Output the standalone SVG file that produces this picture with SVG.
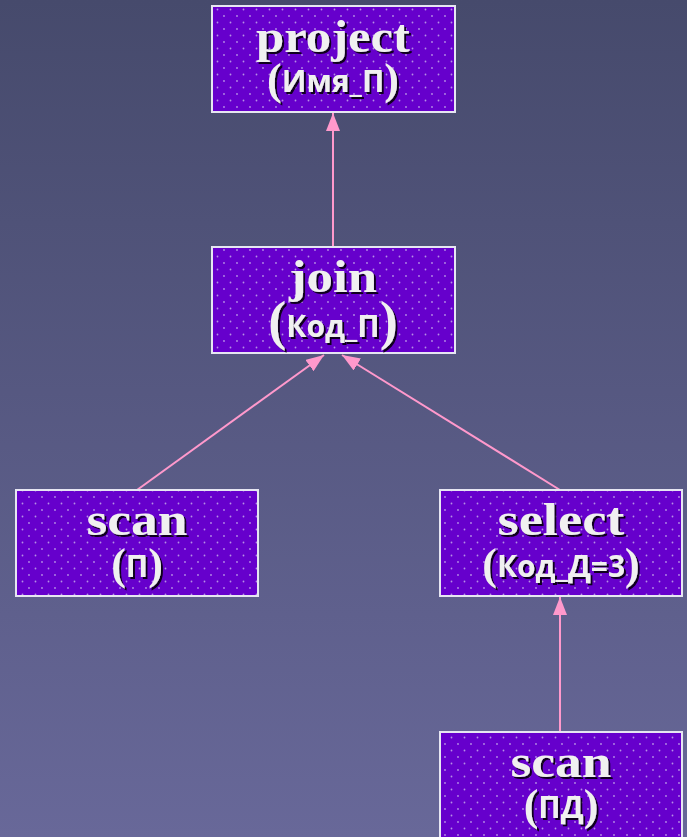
<svg xmlns="http://www.w3.org/2000/svg" width="687" height="837" viewBox="0 0 687 837">
<defs>
<linearGradient id="bg" x1="0" y1="0" x2="0" y2="1">
<stop offset="0" stop-color="#464a6c"/>
<stop offset="1" stop-color="#686899"/>
</linearGradient>
<pattern id="dots" width="13" height="13" patternUnits="userSpaceOnUse">
<rect width="13" height="13" fill="#6600cc"/>
<circle cx="3" cy="3" r="0.9" fill="#b58ee6"/>
<circle cx="9.5" cy="9.5" r="0.9" fill="#b58ee6"/>
</pattern>
<marker id="arr" viewBox="0 0 18 14" refX="18" refY="7" markerWidth="18" markerHeight="14" markerUnits="userSpaceOnUse" orient="auto">
<path d="M0,0 L18,7 L0,14 Z" fill="#ff99cc"/>
</marker>
<filter id="sh" x="-10%" y="-10%" width="130%" height="140%">
<feDropShadow dx="2" dy="2" stdDeviation="0.6" flood-color="#000" flood-opacity="0.85"/>
</filter>
</defs>
<style>
.box{fill:url(#dots);stroke:#e6e6f2;stroke-width:2}
.t{font-family:"Liberation Serif","Times New Roman",serif;font-weight:bold;fill:#f0f0f0;text-anchor:middle}
.main{font-size:46px}
.par{font-size:44px}
.big{font-size:54px}
.in{font-family:"Open Sans","DejaVu Sans",sans-serif;font-weight:bold;font-size:30px;fill:#f0f0f0}
.con{stroke:#ff99cc;stroke-width:2;fill:none;marker-end:url(#arr)}
</style>
<rect width="687" height="837" fill="url(#bg)"/>
<g id="connectors">
<line class="con" x1="333" y1="247" x2="333" y2="113"/>
<line class="con" x1="137" y1="490" x2="324" y2="355"/>
<line class="con" x1="560" y1="490" x2="342" y2="355"/>
<line class="con" x1="560" y1="732" x2="560" y2="597"/>
</g>
<g id="project">
<rect class="box" x="212" y="6" width="243" height="106"/>
<g filter="url(#sh)">
<text class="t main" x="333" y="52" textLength="154" lengthAdjust="spacingAndGlyphs">project</text>
<text class="t par" x="333" y="94"><tspan>(</tspan><tspan class="in" dy="-2">Имя_П</tspan><tspan dy="2">)</tspan></text>
</g>
</g>
<g id="join">
<rect class="box" x="212" y="247" width="243" height="106"/>
<g filter="url(#sh)">
<text class="t main" x="333" y="292" textLength="88" lengthAdjust="spacingAndGlyphs">join</text>
<text class="t big" x="333" y="339"><tspan>(</tspan><tspan class="in" dy="-2">Код_П</tspan><tspan dy="2">)</tspan></text>
</g>
</g>
<g id="scan1">
<rect class="box" x="16" y="490" width="242" height="106"/>
<g filter="url(#sh)">
<text class="t main" x="137" y="535" textLength="101" lengthAdjust="spacingAndGlyphs">scan</text>
<text class="t par" x="137" y="579"><tspan>(</tspan><tspan class="in" dy="-2">П</tspan><tspan dy="2">)</tspan></text>
</g>
</g>
<g id="select">
<rect class="box" x="440" y="490" width="242" height="106"/>
<g filter="url(#sh)">
<text class="t main" x="561" y="535" textLength="127" lengthAdjust="spacingAndGlyphs">select</text>
<text class="t par" x="561" y="579"><tspan>(</tspan><tspan class="in" dy="-2">Код_Д=3</tspan><tspan dy="2">)</tspan></text>
</g>
</g>
<g id="scan2">
<rect class="box" x="440" y="732" width="242" height="110"/>
<g filter="url(#sh)">
<text class="t main" x="561" y="777" textLength="101" lengthAdjust="spacingAndGlyphs">scan</text>
<text class="t par" x="561" y="820"><tspan>(</tspan><tspan class="in" dy="-2">ПД</tspan><tspan dy="2">)</tspan></text>
</g>
</g>
</svg>
